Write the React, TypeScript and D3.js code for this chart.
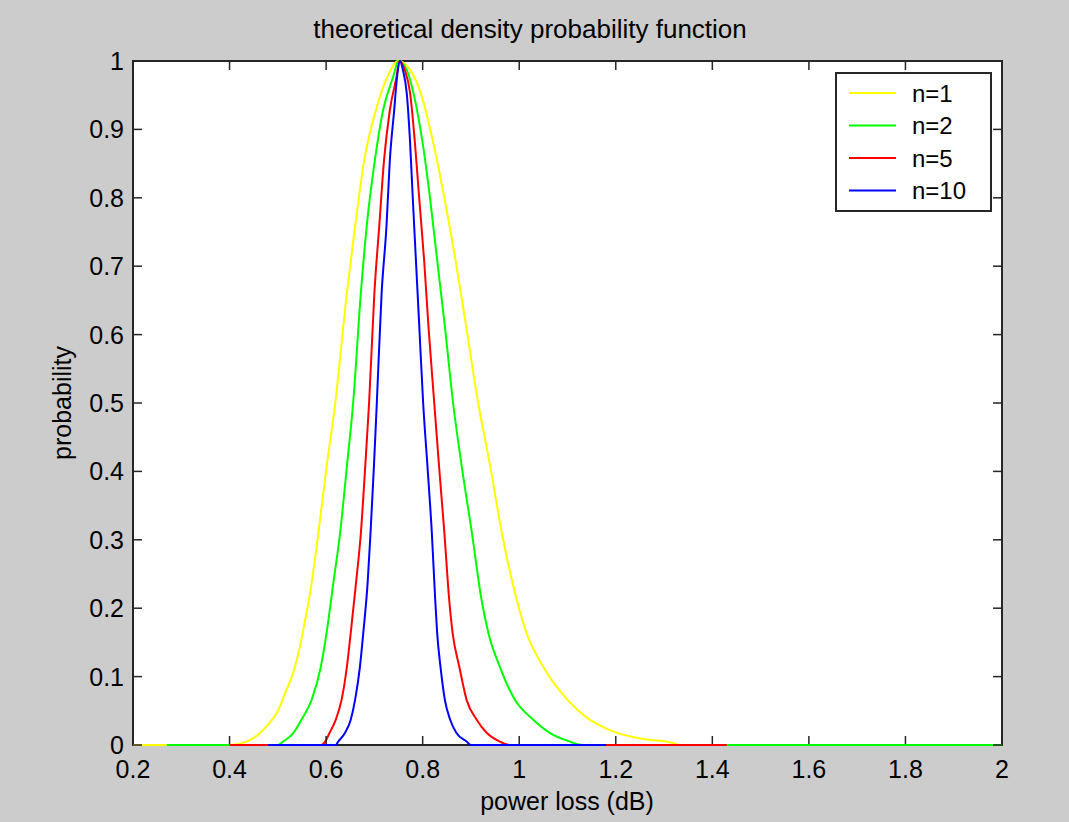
import React from "react";
import * as d3 from "d3";

// ---- data ----
const seriesNames = ["n=1", "n=2", "n=5", "n=10"];
const seriesColors = ["#ffff00", "#00ff00", "#ff0000", "#0000ff"];

const n1X = [0.2, 0.4, 0.4355, 0.459, 0.48, 0.5003, 0.5147, 0.5355, 0.5515, 0.57, 0.584, 0.601, 0.619, 0.643, 0.66, 0.679, 0.703, 0.727, 0.75, 0.774, 0.796, 0.822, 0.843, 0.868, 0.89, 0.915, 0.94, 0.964, 0.995, 1.015, 1.05, 1.1, 1.14, 1.194, 1.264, 1.312, 1.33];
const n1Y = [0, 0, 0.005, 0.015, 0.03, 0.05, 0.075, 0.114, 0.164, 0.237, 0.31, 0.407, 0.5, 0.661, 0.758, 0.855, 0.928, 0.977, 1, 0.987, 0.953, 0.88, 0.807, 0.709, 0.612, 0.5, 0.407, 0.31, 0.212, 0.164, 0.114, 0.066, 0.04, 0.02, 0.008, 0.004, 0];

const n2X = [0.27, 0.5, 0.511, 0.532, 0.549, 0.57, 0.589, 0.601, 0.615, 0.629, 0.643, 0.656, 0.672, 0.684, 0.701, 0.718, 0.739, 0.75, 0.767, 0.781, 0.8, 0.814, 0.83, 0.846, 0.863, 0.881, 0.902, 0.922, 0.936, 0.96, 0.991, 1.029, 1.064, 1.105, 1.13, 2.0];
const n2Y = [0, 0, 0.005, 0.0175, 0.037, 0.066, 0.114, 0.164, 0.237, 0.31, 0.407, 0.5, 0.661, 0.758, 0.855, 0.928, 0.977, 1, 0.987, 0.953, 0.88, 0.807, 0.709, 0.612, 0.5, 0.407, 0.31, 0.212, 0.164, 0.114, 0.066, 0.037, 0.0175, 0.005, 0, 0];

const n5X = [0.4, 0.59, 0.598, 0.607, 0.62, 0.632, 0.643, 0.651, 0.662, 0.672, 0.681, 0.689, 0.7, 0.71, 0.72, 0.732, 0.746, 0.752, 0.763, 0.774, 0.784, 0.792, 0.803, 0.812, 0.824, 0.834, 0.845, 0.855, 0.862, 0.876, 0.891, 0.912, 0.933, 0.96, 0.98, 1.43];
const n5Y = [0, 0, 0.005, 0.0175, 0.037, 0.066, 0.114, 0.164, 0.237, 0.31, 0.407, 0.5, 0.661, 0.758, 0.855, 0.928, 0.977, 1, 0.987, 0.953, 0.88, 0.807, 0.709, 0.612, 0.5, 0.407, 0.31, 0.212, 0.164, 0.114, 0.066, 0.037, 0.0175, 0.005, 0, 0];

const n10X = [0.48, 0.62, 0.625, 0.639, 0.651, 0.66, 0.67, 0.677, 0.686, 0.692, 0.699, 0.705, 0.715, 0.725, 0.732, 0.741, 0.747, 0.753, 0.759, 0.767, 0.774, 0.779, 0.786, 0.793, 0.801, 0.81, 0.819, 0.826, 0.83, 0.837, 0.846, 0.857, 0.87, 0.891, 0.9, 1.18];
const n10Y = [0, 0, 0.005, 0.0175, 0.037, 0.066, 0.114, 0.164, 0.237, 0.31, 0.407, 0.5, 0.661, 0.758, 0.855, 0.928, 0.977, 1, 0.987, 0.953, 0.88, 0.807, 0.709, 0.612, 0.5, 0.407, 0.31, 0.212, 0.164, 0.114, 0.066, 0.037, 0.0175, 0.005, 0, 0];

const xTicks = [0.2, 0.4, 0.6, 0.8, 1, 1.2, 1.4, 1.6, 1.8, 2];
const yTicks = [0, 0.1, 0.2, 0.3, 0.4, 0.5, 0.6, 0.7, 0.8, 0.9, 1];

const titleText = "theoretical density probability function";
const xLabel = "power loss (dB)";
const yLabel = "probability";

export default function App() {
  const W = 1069, H = 822;
  const L = 133, R = 1002, T = 61, B = 745;
  const x = d3.scaleLinear().domain([0.2, 2]).range([L, R]);
  const y = d3.scaleLinear().domain([0, 1]).range([B, T]);
  const font = "'Liberation Sans', Arial, sans-serif";
  const line = d3.line<[number, number]>().x(d => x(d[0])).y(d => y(d[1])).curve(d3.curveMonotoneX);
  const series = [
    { xs: n1X, ys: n1Y },
    { xs: n2X, ys: n2Y },
    { xs: n5X, ys: n5Y },
    { xs: n10X, ys: n10Y },
  ];
  const tick = 9;
  const axisColor = "#262626";
  const legL = 836, legT = 73, legR = 991, legB = 211;
  const rowY = [93, 125.5, 158, 190.5];

  return (
    <svg width={W} height={H} style={{ position: "absolute", left: 0, top: 0, display: "block" }}>
      <rect x={0} y={0} width={W} height={H} fill="#cccccc" />
      <rect x={L} y={T} width={R - L} height={B - T} fill="#ffffff" />
      {/* box */}
      <rect x={L} y={T} width={R - L} height={B - T} fill="none" stroke={axisColor} strokeWidth={2} />
      <g>
        {series.map((s, i) => (
          <path key={i} d={line(s.xs.map((v, j) => [v, s.ys[j]] as [number, number])) || ""}
            fill="none" stroke={seriesColors[i]} strokeWidth={2} />
        ))}
      </g>
      {/* ticks */}
      {xTicks.map((t, i) => (
        <g key={"xt" + i}>
          <line x1={x(t)} x2={x(t)} y1={B - 1} y2={B - tick} stroke={axisColor} strokeWidth={1.5} />
          <line x1={x(t)} x2={x(t)} y1={T} y2={T + tick} stroke={axisColor} strokeWidth={1.5} />
          <text x={x(t)} y={778} textAnchor="middle" fontFamily={font} fontSize={25} fill="#000">{d3.format("~g")(t)}</text>
        </g>
      ))}
      {yTicks.map((t, i) => (
        <g key={"yt" + i}>
          <line x1={L} x2={L + tick} y1={y(t)} y2={y(t)} stroke={axisColor} strokeWidth={1.5} />
          <line x1={R} x2={R - tick} y1={y(t)} y2={y(t)} stroke={axisColor} strokeWidth={1.5} />
          <text x={124} y={y(t)} dy="0.36em" textAnchor="end" fontFamily={font} fontSize={25} fill="#000">{d3.format("~g")(t)}</text>
        </g>
      ))}
      <text x={530} y={38} textAnchor="middle" fontFamily={font} fontSize={26} fill="#000">{titleText}</text>
      <text x={567} y={810} textAnchor="middle" fontFamily={font} fontSize={25} fill="#000">{xLabel}</text>
      <text transform={`translate(71,403) rotate(-90)`} textAnchor="middle" fontFamily={font} fontSize={25} fill="#000">{yLabel}</text>
      {/* legend */}
      <rect x={legL} y={legT} width={legR - legL} height={legB - legT} fill="#ffffff" stroke={axisColor} strokeWidth={2} />
      {seriesNames.map((n, i) => (
        <g key={"lg" + i}>
          <line x1={849} x2={896} y1={rowY[i]} y2={rowY[i]} stroke={seriesColors[i]} strokeWidth={2} />
          <text x={912} y={rowY[i]} dy="0.36em" fontFamily={font} fontSize={24} fill="#000">{n}</text>
        </g>
      ))}
    </svg>
  );
}
